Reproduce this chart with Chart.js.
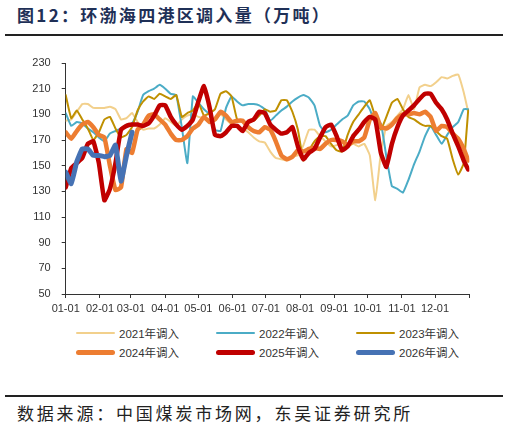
<!DOCTYPE html>
<html><head><meta charset="utf-8">
<script src="https://cdn.jsdelivr.net/npm/chart.js@4.4.1/dist/chart.umd.min.js"></script>
<style>
html,body{margin:0;padding:0;background:#fff;}
#page{position:relative;width:509px;height:428px;overflow:hidden;background:#fff;}
#title{position:absolute;left:17px;top:5px;font-family:"Noto Sans CJK SC",sans-serif;font-weight:bold;font-size:17px;line-height:20px;letter-spacing:2.3px;color:#1f3057;white-space:nowrap;}
.rule{position:absolute;left:5px;width:498px;height:2px;background:#222;}
#chartBox{position:absolute;left:0;top:0;width:509px;height:322px;}
#legend .item{position:absolute;height:16px;display:flex;align-items:center;font-family:"Liberation Sans","Noto Sans CJK SC",sans-serif;font-size:11.5px;color:#333;white-space:nowrap;}
#legend .swatch{width:39px;border-radius:3px;margin-right:4px;}
#source{position:absolute;left:17px;top:403px;font-family:"Noto Sans CJK SC",sans-serif;font-size:17px;line-height:20px;letter-spacing:2.8px;color:#222;white-space:nowrap;}
</style>
</head>
<body>
<div id="page">
  <div id="title">图12：环渤海四港区调入量（万吨）</div>
  <div class="rule" style="top:34px"></div>
  <div id="chartBox"><canvas id="c" width="509" height="322"></canvas></div>
  <div id="legend"></div>
  <div class="rule" style="top:395px"></div>
  <div id="source">数据来源：中国煤炭市场网，东吴证券研究所</div>
</div>
<script>
// ---- data ----
const monthDays = [0,31,59,90,120,151,181,212,243,273,304,334,365];
const monthLabels = ['01-01','02-01','03-01','04-01','05-01','06-01','07-01','08-01','09-01','10-01','11-01','12-01',''];
const yTicks = [50,70,90,110,130,150,170,190,210,230];
const seriesNames = ['2021年调入','2022年调入','2023年调入','2024年调入','2025年调入','2026年调入'];
const days = [0,5,10,15,20,25,30,35,40,45,50,55,60,65,70,75,80,85,90,95,
  100,105,110,115,120,125,130,135,140,145,150,155,160,165,170,175,180,185,190,195,
  200,205,210,215,220,225,230,235,240,245,250,255,260,265,270,275,280,285,290,295,
  300,305,310,315,320,325,330,335,340,345,350,355,360,364];
const v2021 = [185,186,192,198,198,195,195,195,196,194,
  186,187,191,184,178,179,179,182,187,184,
  181,186,189,190,188,187,186,186,190,186,
  182,181,179,176,172,169,168,161,156,155,
  154,157,158,166,178,178,173,169,165,166,
  168,165,167,165,167,158,123,160,181,184,
  189,194,205,194,211,213,212,215,219,218,
  220,221,207,192];
const v2022 = [191,181,184,183,179,176,172,169,175,177,
  179,182,183,192,205,208,210,213,210,206,
  205,180,152,204,199,194,190,178,177,195,
  204,200,197,198,198,197,194,185,189,193,
  196,200,203,205,203,197,181,176,178,182,
  186,189,197,200,200,194,183,183,157,134,
  132,129,139,151,161,173,181,174,167,174,
  180,184,194,194];
const v2023 = [205,187,193,186,179,170,176,186,188,179,
  172,174,180,193,200,204,202,206,204,202,
  205,188,191,193,199,189,191,194,206,208,
  204,186,184,184,185,189,194,192,193,201,
  201,192,178,154,162,169,173,173,167,162,
  161,174,184,190,196,201,188,178,188,199,
  202,194,188,186,183,181,181,177,173,171,
  155,143,152,193];
const v2024 = [176,171,177,182,184,180,174,172,150,131,
  133,163,160,178,182,189,190,186,182,175,
  170,170,173,179,182,188,184,186,192,189,
  184,185,185,180,177,176,180,178,169,158,
  155,157,162,161,163,164,163,167,170,170,
  169,166,169,169,172,186,191,180,179,182,
  187,190,190,191,190,192,188,177,181,180,
  175,171,163,154];
const v2025 = [133,148,152,156,167,169,152,123,132,152,
  178,181,182,182,181,183,189,197,197,188,
  182,178,181,186,200,212,196,174,173,176,
  181,181,177,184,186,192,191,182,178,175,
  176,180,165,155,160,163,172,180,182,173,
  162,165,173,178,184,188,186,160,149,167,
  180,189,193,197,202,206,206,199,194,186,
  175,165,154,147];
const v2026 = [145,136,153,163,163,158,158,157,158,166,138,158,176];

const seriesValues = [v2021,v2022,v2023,v2024,v2025,v2026];
const seriesColors = ['#f2d08c','#4bacc6','#bf9000','#ed7d31','#c00000','#4672b4'];
const seriesWidths = [2,2,2,4.5,4.5,5];

// ---- chart ----
const datasets = seriesValues.map((vals, i) => ({
  label: seriesNames[i],
  data: vals.map((v, k) => ({x: days[k], y: v})),
  borderColor: seriesColors[i],
  backgroundColor: seriesColors[i],
  borderWidth: seriesWidths[i],
  pointRadius: 0,
  tension: 0.12,
  borderJoinStyle: 'round',
  borderCapStyle: 'round',
  fill: false,
  order: seriesValues.length - 1 - i
}));

new Chart(document.getElementById('c'), {
  type: 'line',
  data: {datasets},
  options: {
    responsive: false,
    animation: false,
    layout: {padding: {top: 63, right: 39.7, bottom: 0, left: 0}},
    plugins: {legend: {display: false}, tooltip: {enabled: false}},
    scales: {
      x: {
        type: 'linear', min: 0, max: 365,
        afterBuildTicks: (axis) => { axis.ticks = monthDays.map(v => ({value: v})); },
        afterFit: (axis) => { axis.height = 28; },
        ticks: {
          autoSkip: false, maxRotation: 0, minRotation: 0, padding: 4,
          color: '#333', font: {family: 'Liberation Sans', size: 11},
          callback: (v, i) => monthLabels[i]
        },
        grid: {display: true, drawOnChartArea: false, drawTicks: true, tickLength: 4, color: '#333'},
        border: {display: true, color: '#333', width: 1}
      },
      y: {
        min: 50, max: 230,
        afterBuildTicks: (axis) => { axis.ticks = yTicks.map(v => ({value: v})); },
        afterFit: (axis) => { axis.width = 65.7; },
        ticks: {padding: 11, color: '#333', font: {family: 'Liberation Sans', size: 11}},
        grid: {display: true, drawOnChartArea: false, drawTicks: true, tickLength: 4, color: '#333'},
        border: {display: true, color: '#333', width: 1}
      }
    }
  }
});

// ---- legend (html) ----
const legend = document.getElementById('legend');
const colLeft = [76, 216, 356];
const rowTop = [325, 344];
seriesNames.forEach((name, i) => {
  const item = document.createElement('div');
  item.className = 'item';
  item.style.left = colLeft[i % 3] + 'px';
  item.style.top = rowTop[Math.floor(i / 3)] + 'px';
  const sw = document.createElement('span');
  sw.className = 'swatch';
  sw.style.background = seriesColors[i];
  sw.style.height = (i < 3 ? 2.5 : 5) + 'px';
  const tx = document.createElement('span');
  tx.textContent = name;
  item.appendChild(sw);
  item.appendChild(tx);
  legend.appendChild(item);
});
</script>
</body></html>
